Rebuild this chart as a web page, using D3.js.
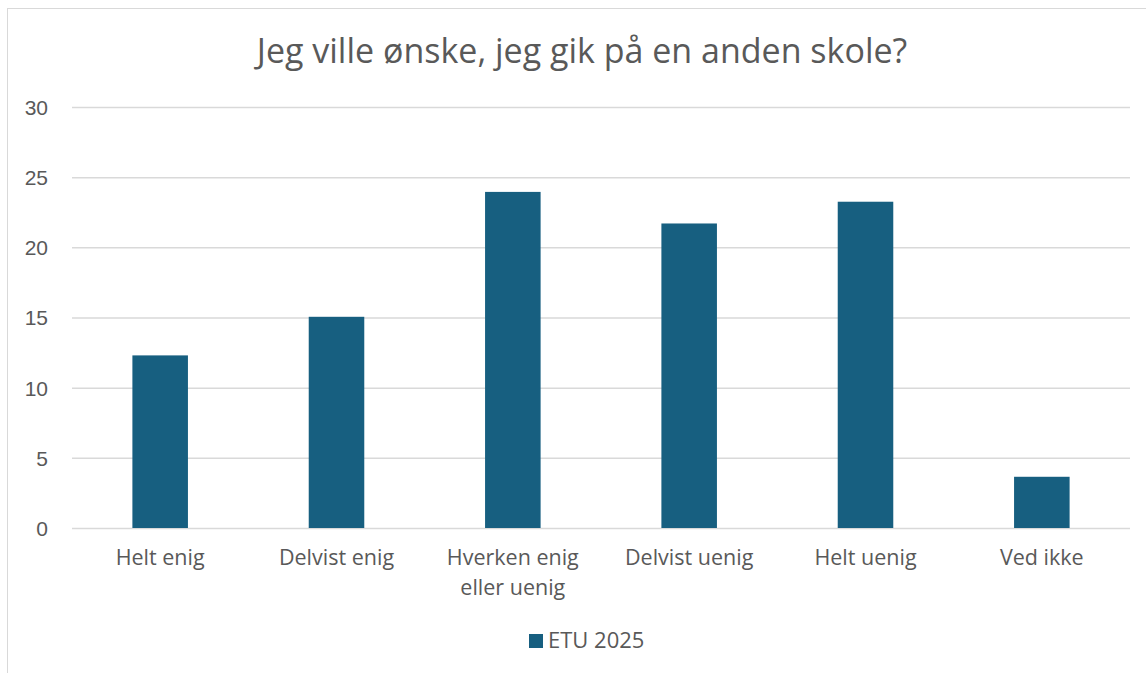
<!DOCTYPE html>
<html>
<head>
<meta charset="utf-8">
<script src="https://cdn.jsdelivr.net/npm/d3@7"></script>
<style>
  html, body { margin: 0; padding: 0; background: #fff; }
  svg { display: block; font-family: "Open Sans", "Noto Sans", sans-serif; }
</style>
</head>
<body>
<div id="chart"></div>
<script>
// data
var categories = ["Helt enig", "Delvist enig", "Hverken enig eller uenig", "Delvist uenig", "Helt uenig", "Ved ikke"];
var labelLines = [["Helt enig"], ["Delvist enig"], ["Hverken enig", "eller uenig"], ["Delvist uenig"], ["Helt uenig"], ["Ved ikke"]];
var values = [12.3, 15.05, 23.95, 21.7, 23.25, 3.65];
var yTicks = [0, 5, 10, 15, 20, 25, 30];
var seriesName = "ETU 2025";
var title = "Jeg ville ønske, jeg gik på en anden skole?";

var W = 1146, H = 673;
var margin = {left: 72, right: 16, top: 107, bottom: 145};
var barColor = "#175f80", textColor = "#595959", gridColor = "#d9d9d9";

var svg = d3.select("#chart").append("svg")
  .attr("width", W).attr("height", H);

// chart frame
svg.append("rect")
  .attr("x", 7.5).attr("y", 8.5)
  .attr("width", W + 10).attr("height", H + 10)
  .attr("fill", "#fff").attr("stroke", "#d9d9d9").attr("stroke-width", 1);

var x = d3.scaleBand()
  .domain(categories)
  .range([margin.left, W - margin.right])
  .paddingInner(0.685).paddingOuter(0.3425);

var y = d3.scaleLinear()
  .domain([0, 30])
  .range([H - margin.bottom, margin.top]);

// title
svg.append("text")
  .attr("x", 582)
  .attr("y", 63)
  .attr("text-anchor", "middle")
  .attr("fill", textColor)
  .style("font-size", "34px")
  .text(title);

// gridlines + y labels
var yAxis = d3.axisLeft(y).tickValues(yTicks)
  .tickSize(-(W - margin.right - margin.left))
  .tickPadding(24);
var gy = svg.append("g")
  .attr("transform", "translate(" + margin.left + ",0)")
  .call(yAxis);
gy.select(".domain").remove();
gy.selectAll(".tick line").attr("stroke", gridColor).attr("stroke-width", 1.5);
gy.selectAll(".tick text")
  .attr("fill", textColor)
  .style("font-size", "21px")
  .style("font-family", "Liberation Sans, Arial, sans-serif")
  .attr("text-anchor", "end")
  .attr("dy", "0.35em");

// bars
svg.append("g").selectAll("rect")
  .data(values)
  .enter().append("rect")
  .attr("x", function(d, i){ return x(categories[i]); })
  .attr("width", x.bandwidth())
  .attr("y", function(d){ return y(d); })
  .attr("height", function(d){ return y(0) - y(d); })
  .attr("fill", barColor);

// x labels
var xl = svg.append("g").selectAll("text")
  .data(labelLines)
  .enter().append("text")
  .attr("text-anchor", "middle")
  .attr("fill", textColor)
  .style("font-size", "21.5px")
  .attr("x", function(d, i){ return x(categories[i]) + x.bandwidth() / 2; })
  .attr("y", y(0) + 37);
xl.selectAll("tspan")
  .data(function(d){ return d; })
  .enter().append("tspan")
  .attr("x", function(){ return d3.select(this.parentNode).attr("x"); })
  .attr("dy", function(d, i){ return i === 0 ? 0 : 30; })
  .text(function(d){ return d; });

// legend
var lg = svg.append("g").attr("transform", "translate(529,648)");
lg.append("rect").attr("x", 0).attr("y", -14).attr("width", 14).attr("height", 14).attr("fill", barColor);
lg.append("text").attr("x", 19).attr("y", 0)
  .attr("fill", textColor).style("font-size", "22px")
  .text(seriesName);
</script>
</body>
</html>
